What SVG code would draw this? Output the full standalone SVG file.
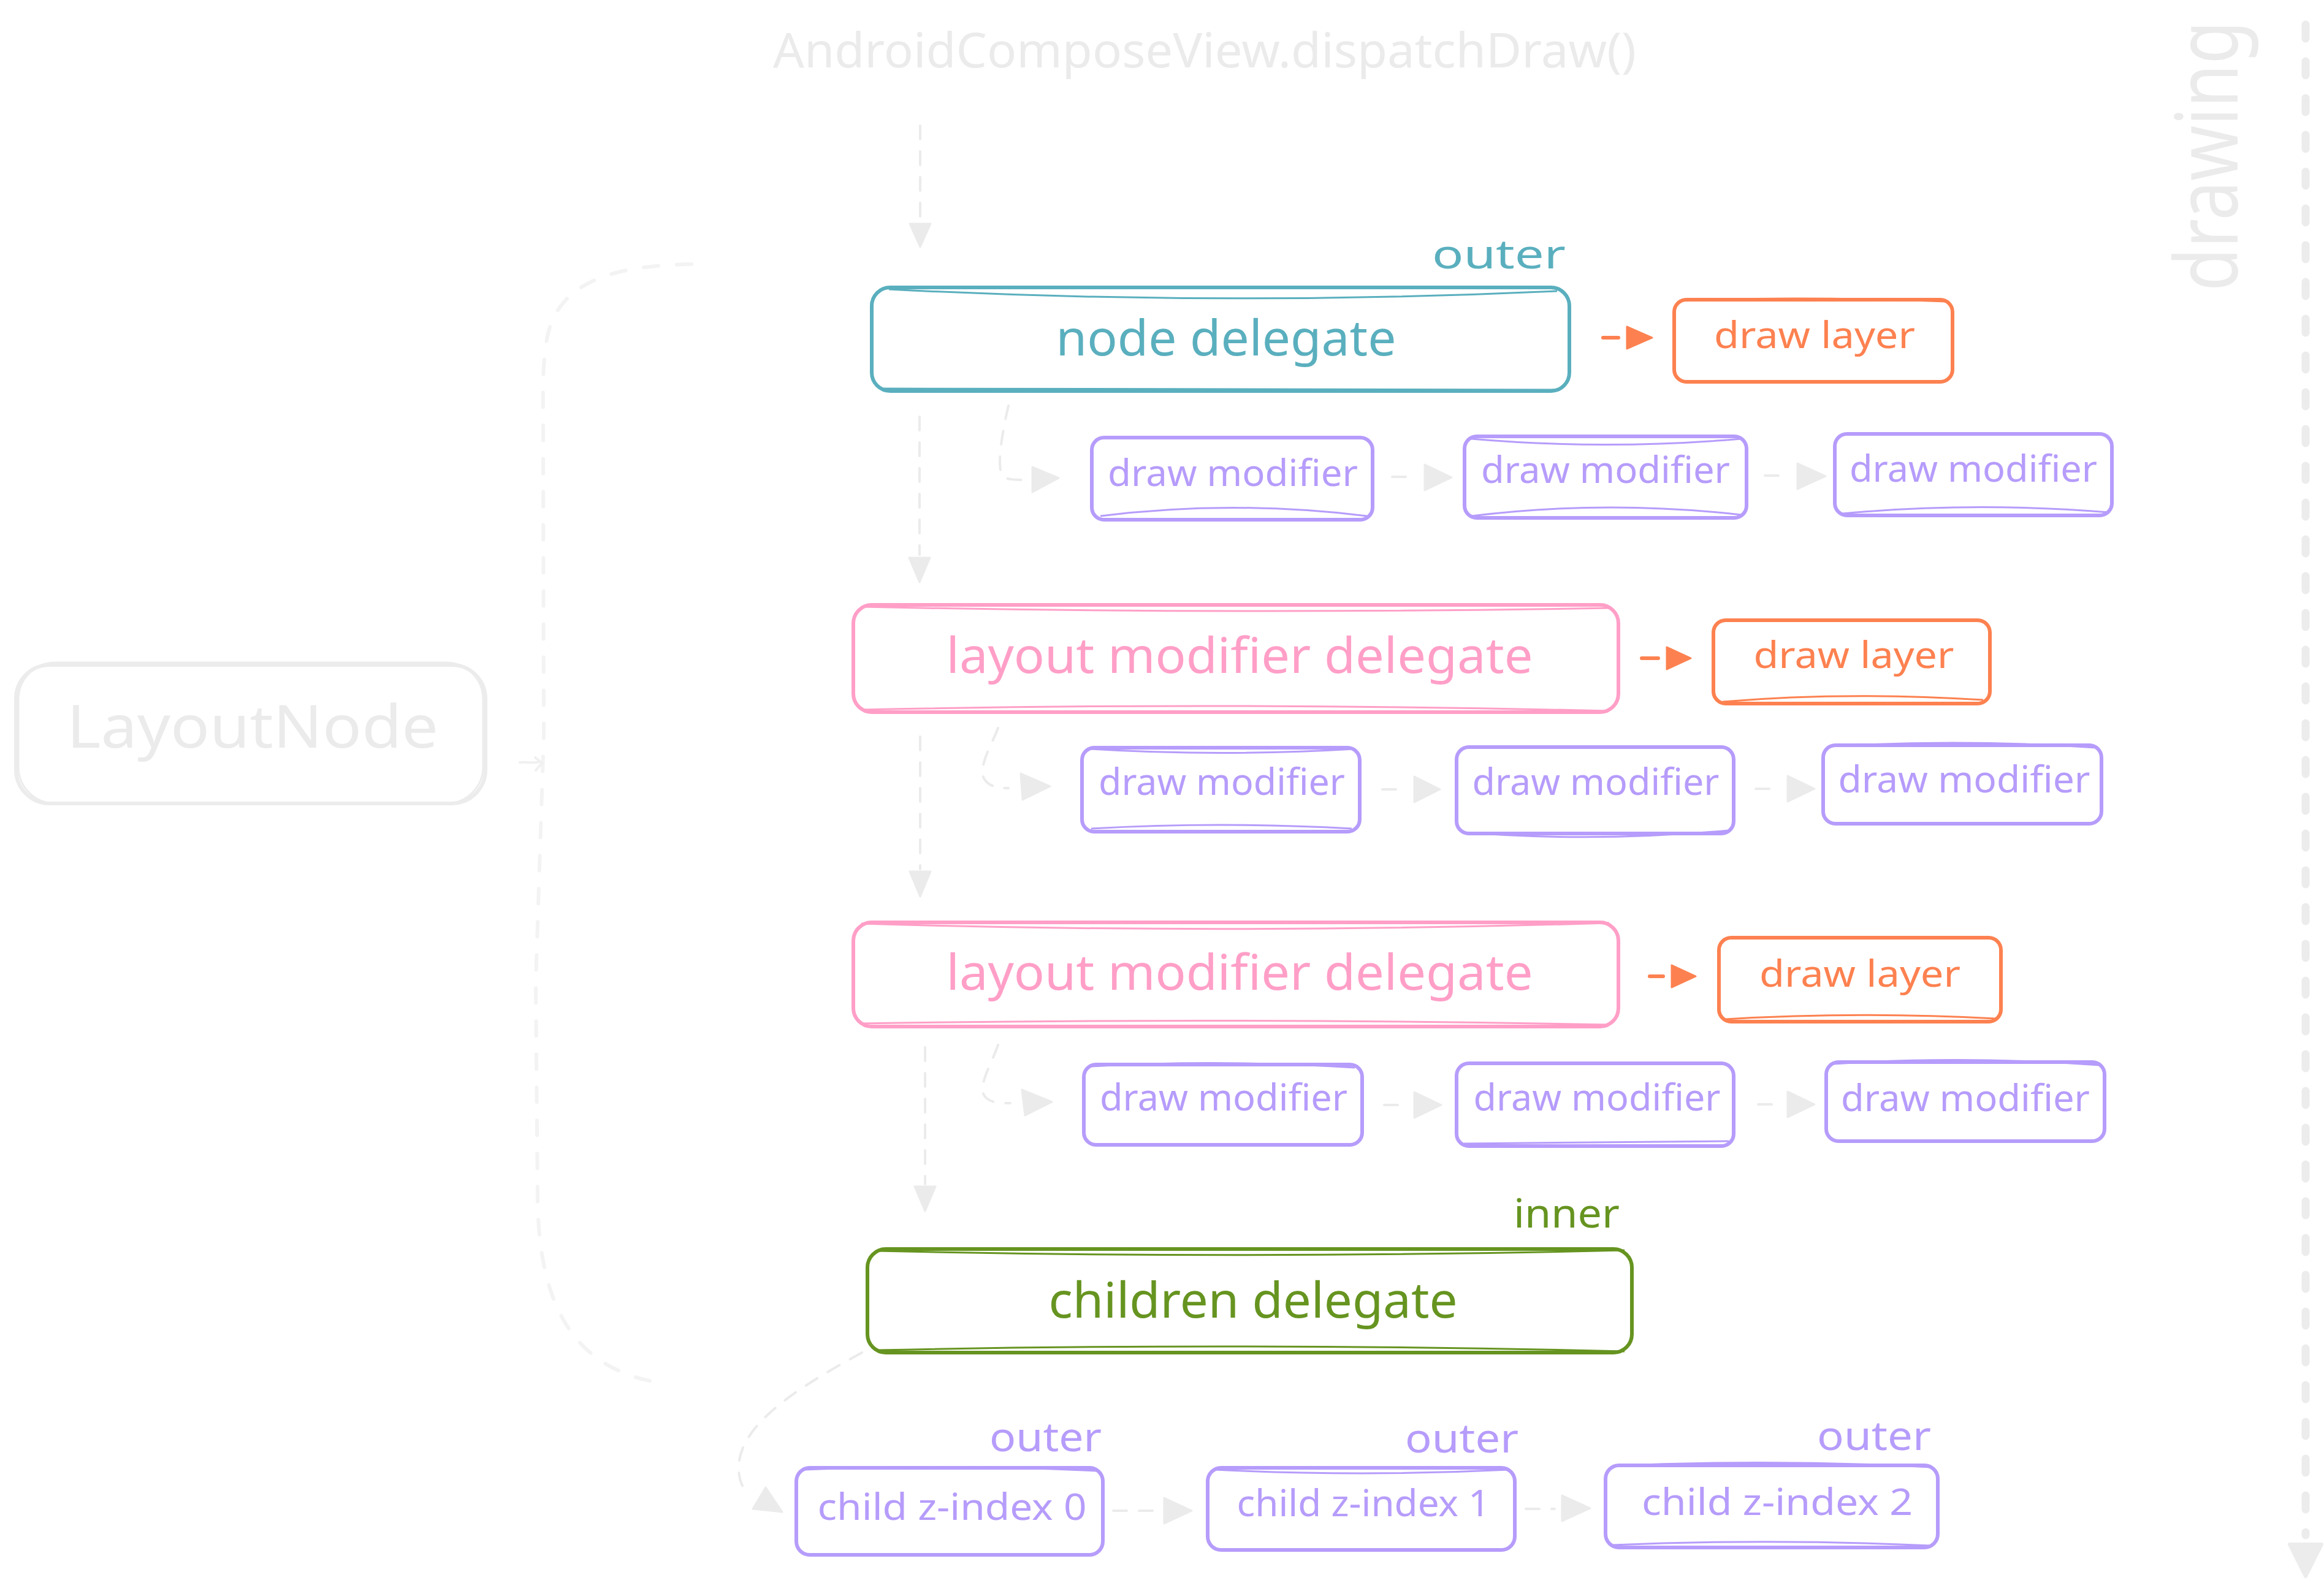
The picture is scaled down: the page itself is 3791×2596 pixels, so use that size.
<svg xmlns="http://www.w3.org/2000/svg" width="3791" height="2596" viewBox="0 0 3791 2596">
<style>
text{font-family:"Noto Sans","Liberation Sans",sans-serif;}
.box{fill:none;stroke-width:6;stroke-linejoin:round}
.box2{fill:none;stroke-width:3;stroke-linejoin:round}
.teal{stroke:#5aafbe}
.pink{stroke:#ff9fc7}
.orange{stroke:#fd8150}
.purple{stroke:#b69cfb}
.green{stroke:#669420}
.tteal{fill:#5aafbe}
.tpink{fill:#ff9fc7}
.torange{fill:#fd8150}
.tpurple{fill:#b69cfb}
.tgreen{fill:#669420}
.tgray{fill:#ebebeb}
.big{font-size:80px}
.mid{font-size:60px}
.lab{font-size:66px}
.conn{fill:none;stroke:#ebebeb;stroke-width:4;stroke-dasharray:22 20;stroke-linecap:round}
.connl{fill:none;stroke:#f3f3f3;stroke-width:6;stroke-dasharray:24 30;stroke-linecap:round}
.head{fill:#ebebeb;stroke:#ebebeb;stroke-width:3;stroke-linejoin:round}
.ohead{fill:#fd8150;stroke:#fd8150;stroke-width:3;stroke-linejoin:round}
.odash{stroke:#fd8150;stroke-width:6;stroke-linecap:round}
</style>

<g id="title">
<text x="1965" y="110" class="tgray" font-size="78" text-anchor="middle" textLength="1408" lengthAdjust="spacingAndGlyphs">AndroidComposeView.dispatchDraw()</text>
</g>

<g id="drawing-axis">
<text x="3595" y="34" writing-mode="vertical-rl" transform="rotate(180 3595 254.5)" class="tgray" font-size="140" textLength="441" lengthAdjust="spacingAndGlyphs">drawing</text>
<line x1="3761" y1="40" x2="3761" y2="2505" stroke="#ececec" stroke-width="13" stroke-linecap="round" stroke-dasharray="23 37"/>
<polygon points="3735,2520 3787,2520 3761,2572" fill="#ececec" stroke="#ececec" stroke-width="6" stroke-linejoin="round"/>
</g>

<g id="connectors">
<line class="conn" x1="1501" y1="205" x2="1501" y2="360"/>
<polygon class="head" points="1484,365 1518,365 1501,403"/>
<line class="conn" x1="1500" y1="680" x2="1500" y2="905"/>
<polygon class="head" points="1483,910 1517,910 1500,950"/>
<line class="conn" x1="1501" y1="1202" x2="1501" y2="1418"/>
<polygon class="head" points="1484,1422 1518,1422 1501,1463"/>
<line class="conn" x1="1509" y1="1709" x2="1509" y2="1932"/>
<polygon class="head" points="1492,1936 1526,1936 1509,1976"/>

<path class="conn" d="M1645,662 C1636,700 1626,755 1634,775 C1640,783 1655,783 1668,783"/>
<polygon class="head" points="1684,762 1684,803 1727,780"/>
<path class="conn" d="M1628,1188 C1618,1215 1598,1245 1604,1268 C1610,1282 1625,1286 1645,1286"/>
<polygon class="head" points="1665,1262 1668,1305 1713,1283"/>
<path class="conn" d="M1628,1705 C1618,1735 1598,1765 1604,1785 C1610,1798 1625,1800 1648,1800"/>
<polygon class="head" points="1667,1778 1672,1820 1716,1798"/>

<line class="conn" x1="2271" y1="778" x2="2300" y2="778"/>
<polygon class="head" points="2324,758 2324,800 2368,779"/>
<line class="conn" x1="2879" y1="776" x2="2908" y2="776"/>
<polygon class="head" points="2932,756 2932,798 2978,777"/>
<line class="conn" x1="2255" y1="1288" x2="2283" y2="1288"/>
<polygon class="head" points="2307,1267 2307,1309 2349,1288"/>
<line class="conn" x1="2864" y1="1287" x2="2892" y2="1287"/>
<polygon class="head" points="2916,1266 2916,1308 2960,1287"/>
<line class="conn" x1="2258" y1="1803" x2="2286" y2="1803"/>
<polygon class="head" points="2307,1782 2307,1824 2351,1803"/>
<line class="conn" x1="2868" y1="1802" x2="2895" y2="1802"/>
<polygon class="head" points="2916,1781 2916,1823 2960,1802"/>

<line class="odash" x1="2615" y1="551" x2="2640" y2="551"/>
<polygon class="ohead" points="2654,533 2654,569 2695,551"/>
<line class="odash" x1="2678" y1="1074" x2="2705" y2="1074"/>
<polygon class="ohead" points="2719,1056 2719,1092 2758,1074"/>
<line class="odash" x1="2691" y1="1593" x2="2713" y2="1593"/>
<polygon class="ohead" points="2727,1575 2727,1611 2766,1593"/>

<path class="conn" d="M1406,2207 C1300,2265 1205,2325 1205,2395 C1205,2415 1212,2430 1222,2440"/>
<polygon class="head" points="1249,2427 1228,2462 1276,2467"/>
<line class="conn" x1="1816" y1="2465" x2="1881" y2="2465"/>
<polygon class="head" points="1899,2444 1899,2486 1944,2465"/>
<line class="conn" x1="2489" y1="2462" x2="2536" y2="2462"/>
<polygon class="head" points="2548,2440 2548,2482 2594,2461"/>

<path class="connl" d="M1128,431 C1010,433 905,455 891,560 C884,610 886,640 886,700 L887,1200 L874,1600 L877,1960 C880,2150 950,2240 1088,2258"/>
<path d="M848,1244 C860,1243 870,1246 880,1243 M873,1236 L884,1245 L874,1257" fill="none" stroke="#f0f0f0" stroke-width="4" stroke-linecap="round" stroke-linejoin="round"/>
</g>

<g id="layout-node">
<rect class="box" x="26" y="1085" width="766" height="226" rx="55" stroke="#ececec"/>
<rect class="box2" x="30" y="1081" width="758" height="230" rx="60" stroke="#ececec"/>
<text x="412" y="1220" class="tgray" font-size="96" text-anchor="middle" textLength="606" lengthAdjust="spacingAndGlyphs">LayoutNode</text>
</g>

<g id="node-delegate">
<rect class="box teal" x="1422" y="469" width="1138" height="169" rx="30"/>
<path class="box2 teal" d="M1450,472 Q1990,500 2540,475 M1440,634 L2545,636"/>
<text x="2000" y="580" class="tteal big" text-anchor="middle" textLength="555" lengthAdjust="spacingAndGlyphs">node delegate</text>
<text x="2554" y="438" class="tteal lab" text-anchor="end" textLength="218" lengthAdjust="spacingAndGlyphs">outer</text>
</g>

<g id="draw-layer-1">
<rect class="box orange" x="2731" y="489" width="454" height="134" rx="20"/>
<path class="box2 orange" d="M2745,490 Q2950,483 3175,492"/>
<text x="2960" y="568" class="torange mid" text-anchor="middle" textLength="328" lengthAdjust="spacingAndGlyphs">draw layer</text>
</g>

<g id="dm-1-1">
<rect class="box purple" x="1781" y="714" width="458" height="134" rx="20"/>
<path class="box2 purple" d="M1795,842 Q2010,815 2230,842"/>
<text x="2011" y="793" class="tpurple mid" text-anchor="middle" textLength="408" lengthAdjust="spacingAndGlyphs">draw modifier</text>
</g>
<g id="dm-1-2">
<rect class="box purple" x="2389" y="712" width="460" height="133" rx="20"/>
<path class="box2 purple" d="M2400,716 Q2620,735 2840,716 M2400,842 Q2620,815 2840,840"/>
<text x="2619" y="788" class="tpurple mid" text-anchor="middle" textLength="406" lengthAdjust="spacingAndGlyphs">draw modifier</text>
</g>
<g id="dm-1-3">
<rect class="box purple" x="2993" y="708" width="452" height="133" rx="20"/>
<path class="box2 purple" d="M3005,838 Q3220,818 3440,836"/>
<text x="3219" y="786" class="tpurple mid" text-anchor="middle" textLength="404" lengthAdjust="spacingAndGlyphs">draw modifier</text>
</g>

<g id="layout-modifier-1">
<rect class="box pink" x="1392" y="987" width="1248" height="175" rx="30"/>
<path class="box2 pink" d="M1405,990 Q2000,1003 2630,992 M1405,1158 Q2000,1145 2625,1160"/>
<text x="2022" y="1098" class="tpink big" text-anchor="middle" textLength="957" lengthAdjust="spacingAndGlyphs">layout modifier delegate</text>
</g>

<g id="draw-layer-2">
<rect class="box orange" x="2795" y="1012" width="451" height="136" rx="20"/>
<path class="box2 orange" d="M2810,1145 Q3010,1128 3235,1142"/>
<text x="3024" y="1090" class="torange mid" text-anchor="middle" textLength="327" lengthAdjust="spacingAndGlyphs">draw layer</text>
</g>

<g id="dm-2-1">
<rect class="box purple" x="1765" y="1220" width="453" height="137" rx="20"/>
<path class="box2 purple" d="M1778,1222 Q1990,1235 2210,1222 M1780,1352 Q1990,1340 2205,1352"/>
<text x="1993" y="1297" class="tpurple mid" text-anchor="middle" textLength="402" lengthAdjust="spacingAndGlyphs">draw modifier</text>
</g>
<g id="dm-2-2">
<rect class="box purple" x="2376" y="1219" width="452" height="141" rx="20"/>
<path class="box2 purple" d="M2385,1358 Q2600,1375 2820,1355"/>
<text x="2603" y="1297" class="tpurple mid" text-anchor="middle" textLength="403" lengthAdjust="spacingAndGlyphs">draw modifier</text>
</g>
<g id="dm-2-3">
<rect class="box purple" x="2974" y="1216" width="454" height="128" rx="20"/>
<path class="box2 purple" d="M2985,1218 Q3200,1205 3420,1220"/>
<text x="3204" y="1293" class="tpurple mid" text-anchor="middle" textLength="411" lengthAdjust="spacingAndGlyphs">draw modifier</text>
</g>

<g id="layout-modifier-2">
<rect class="box pink" x="1392" y="1505" width="1248" height="170" rx="30"/>
<path class="box2 pink" d="M1405,1507 Q2000,1525 2625,1506 M1405,1670 Q2000,1660 2625,1672"/>
<text x="2022" y="1615" class="tpink big" text-anchor="middle" textLength="957" lengthAdjust="spacingAndGlyphs">layout modifier delegate</text>
</g>

<g id="draw-layer-3">
<rect class="box orange" x="2804" y="1530" width="460" height="137" rx="20"/>
<path class="box2 orange" d="M2815,1663 Q3030,1650 3255,1662"/>
<text x="3034" y="1610" class="torange mid" text-anchor="middle" textLength="328" lengthAdjust="spacingAndGlyphs">draw layer</text>
</g>

<g id="dm-3-1">
<rect class="box purple" x="1768" y="1737" width="454" height="131" rx="20"/>
<path class="box2 purple" d="M1780,1740 Q1990,1728 2210,1742"/>
<text x="1996" y="1812" class="tpurple mid" text-anchor="middle" textLength="404" lengthAdjust="spacingAndGlyphs">draw modifier</text>
</g>
<g id="dm-3-2">
<rect class="box purple" x="2376" y="1735" width="452" height="135" rx="20"/>
<path class="box2 purple" d="M2388,1866 L2820,1862"/>
<text x="2605" y="1812" class="tpurple mid" text-anchor="middle" textLength="403" lengthAdjust="spacingAndGlyphs">draw modifier</text>
</g>
<g id="dm-3-3">
<rect class="box purple" x="2979" y="1733" width="454" height="129" rx="20"/>
<path class="box2 purple" d="M2990,1736 Q3200,1722 3425,1738"/>
<text x="3206" y="1813" class="tpurple mid" text-anchor="middle" textLength="406" lengthAdjust="spacingAndGlyphs">draw modifier</text>
</g>

<g id="children-delegate">
<rect class="box green" x="1415" y="2038" width="1247" height="169" rx="30"/>
<path class="box2 green" d="M1430,2041 Q2040,2055 2650,2040 M1430,2203 Q2040,2190 2650,2205"/>
<text x="2044" y="2150" class="tgreen big" text-anchor="middle" textLength="667" lengthAdjust="spacingAndGlyphs">children delegate</text>
<text x="2642" y="2003" class="tgreen lab" text-anchor="end" textLength="173" lengthAdjust="spacingAndGlyphs">inner</text>
</g>

<g id="child-0">
<rect class="box purple" x="1299" y="2395" width="500" height="142" rx="22"/>
<path class="box2 purple" d="M1312,2398 Q1550,2388 1790,2400"/>
<text x="1553" y="2480" class="tpurple mid" text-anchor="middle" textLength="439" lengthAdjust="spacingAndGlyphs">child z-index 0</text>
<text x="1797" y="2368" class="tpurple lab" text-anchor="end" textLength="183" lengthAdjust="spacingAndGlyphs">outer</text>
</g>
<g id="child-1">
<rect class="box purple" x="1970" y="2395" width="501" height="134" rx="22"/>
<path class="box2 purple" d="M1982,2398 Q2220,2410 2462,2398"/>
<text x="2224" y="2474" class="tpurple mid" text-anchor="middle" textLength="413" lengthAdjust="spacingAndGlyphs">child z-index 1</text>
<text x="2477" y="2370" class="tpurple lab" text-anchor="end" textLength="185" lengthAdjust="spacingAndGlyphs">outer</text>
</g>
<g id="child-2">
<rect class="box purple" x="2619" y="2391" width="542" height="134" rx="22"/>
<path class="box2 purple" d="M2630,2392 Q2890,2380 3150,2394 M2630,2521 Q2890,2510 3150,2522"/>
<text x="2899" y="2472" class="tpurple mid" text-anchor="middle" textLength="442" lengthAdjust="spacingAndGlyphs">child z-index 2</text>
<text x="3150" y="2366" class="tpurple lab" text-anchor="end" textLength="186" lengthAdjust="spacingAndGlyphs">outer</text>
</g>
</svg>
